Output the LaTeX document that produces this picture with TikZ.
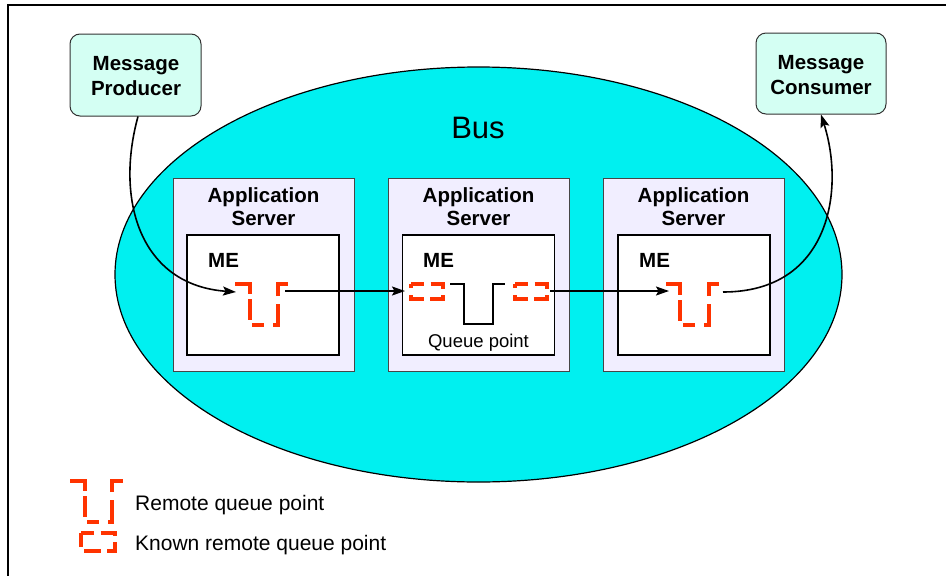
\documentclass[tikz,border=0pt]{standalone}
\usepackage{fontspec}
\setmainfont{Liberation Sans}
\usetikzlibrary{arrows.meta,shapes.geometric}
\definecolor{buscyan}{RGB}{0,240,240}
\definecolor{endfill}{RGB}{212,255,243}
\definecolor{asfill}{RGB}{241,238,255}
\definecolor{qred}{RGB}{255,51,0}
\definecolor{asline}{RGB}{70,70,70}
\tikzset{
 busshape/.style={draw=black, fill=buscyan, ellipse, line width=1.2pt, minimum width=727pt, minimum height=415pt, inner sep=0pt},
 asbox/.style={draw=asline, fill=asfill, line width=1pt, minimum width=181pt, minimum height=193pt, inner sep=0pt},
 mebox/.style={draw=black, fill=white, line width=1.6pt, minimum width=152pt, minimum height=120pt, inner sep=0pt},
 endbox/.style={draw=black!80, fill=endfill, rounded corners=10pt, line width=1pt, minimum width=131pt, minimum height=82pt, inner sep=0pt},
 titletext/.style={font=\fontsize{20.5}{23}\selectfont\bfseries, align=center, inner sep=0pt},
 endtext/.style={font=\fontsize{20.5}{25}\selectfont\bfseries, align=center, inner sep=0pt},
 metext/.style={font=\fontsize{20.5}{23}\selectfont\bfseries, inner sep=0pt, anchor=base west},
 plaintext/.style={font=\fontsize{21}{25}\selectfont, inner sep=0pt, anchor=base west},
 qpdash/.style={draw=qred, line width=3.4pt, dash pattern=on 25pt off 5pt on 21pt off 7pt on 12pt off 9pt on 26pt off 8pt on 22pt off 10pt},
 kqdash/.style={draw=qred, line width=3.4pt, dash pattern=on 17pt off 6.5pt, dash phase=4pt},
 qpsolid/.style={draw=black, line width=1.6pt},
 flow/.style={draw=black, line width=1.6pt, -{Stealth[length=13pt,width=9pt,inset=2.5pt]}},
}
\begin{document}
\begin{tikzpicture}[x=1pt,y=-1pt]
\useasboundingbox (0,0) rectangle (946,576);
% frame
\draw[line width=1.2pt] (8,576) -- (8,5) -- (946,5);

% bus
\node[busshape] (bus) at (478.5,274.5) {};
\node[font=\fontsize{31}{34}\selectfont, inner sep=0pt, anchor=base] (buslabel) at (478,138) {Bus};

% producer / consumer
\node[endbox] (prod) at (135.5,75) {};
\node[endtext] (prodlabel) at (136,76) {Message\\Producer};
\node[endbox, minimum width=130pt, minimum height=81pt] (cons) at (821,73.5) {};
\node[endtext] (conslabel) at (821,75) {Message\\Consumer};

% application servers
\node[asbox] (as1) at (263.5,274.5) {};
\node[asbox] (as2) at (478.5,274.5) {};
\node[asbox] (as3) at (693.5,274.5) {};
\node[titletext] (as1t) at (263.5,207) {Application\\Server};
\node[titletext] (as2t) at (478.5,207) {Application\\Server};
\node[titletext] (as3t) at (693.5,207) {Application\\Server};

% messaging engines
\node[mebox] (me1) at (263,295) {};
\node[mebox] (me2) at (478.5,295) {};
\node[mebox] (me3) at (694,295) {};
\node[metext] (me1t) at (208,267) {ME};
\node[metext] (me2t) at (423,267) {ME};
\node[metext] (me3t) at (639,267) {ME};

% remote queue point in ME 1
\draw[qpdash] (235,284) -- (250,284) -- (250,325) -- (278,325) -- (278,284) -- (288,284);
% queue point and known remote queue points in ME 2
\draw[kqdash] (411,284) -- (443,284) -- (443,299) -- (411,299) -- cycle;
\draw[qpsolid] (450,284) -- (464,284) -- (464,324) -- (493,324) -- (493,284) -- (505,284);
\draw[kqdash] (515,284) -- (547,284) -- (547,299) -- (515,299) -- cycle;
\node[font=\fontsize{18.5}{22}\selectfont, inner sep=0pt, anchor=base] (qplabel) at (478.5,347) {Queue point};
% remote queue point in ME 3
\draw[qpdash] (666,284) -- (680,284) -- (680,325) -- (709,325) -- (709,284) -- (720,284);

% connector end points
\coordinate (rq1in) at (236,292);
\coordinate (rq1out) at (285,291);
\coordinate (kq1in) at (405,291);
\coordinate (kq2out) at (550,291);
\coordinate (rq3in) at (669,291);
\coordinate (rq3out) at (723,292);

% flows
\draw[flow] ([xshift=2.5pt]prod.south) .. controls (115,200) and (140,285) .. (rq1in);
\draw[flow] (rq1out) -- (kq1in);
\draw[flow] (kq2out) -- (rq3in);
\draw[flow] (rq3out) .. controls (830,292) and (845,190) .. (cons.south);

% legend
\draw[qpdash] (70,481) -- (85,481) -- (85,522) -- (112,522) -- (112,481) -- (124,481);
\node[plaintext] (leg1) at (135,510) {Remote queue point};
\draw[kqdash] (81,533) -- (115,533) -- (115,551) -- (81,551) -- cycle;
\node[plaintext] (leg2) at (135,550) {Known remote queue point};
\end{tikzpicture}
\end{document}
